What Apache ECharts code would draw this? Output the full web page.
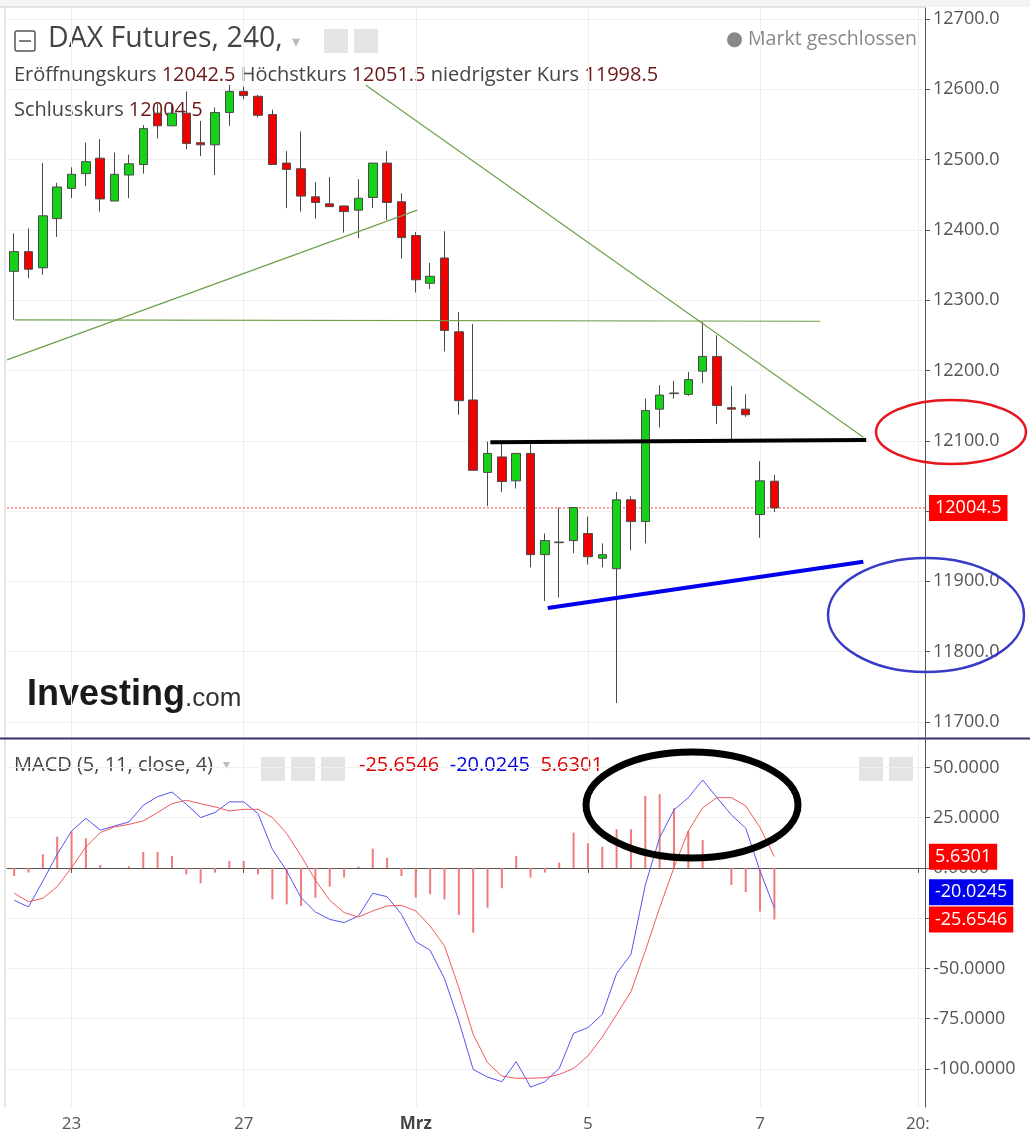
<!DOCTYPE html>
<html><head><meta charset="utf-8">
<script src="https://cdn.jsdelivr.net/npm/echarts@6/dist/echarts.min.js"></script>
<style>html,body{margin:0;padding:0;background:#fff}#c{width:1030px;height:1135px}</style>
</head><body><div id="c"></div>
<script>
const xLabels = {4:'23',16:'27',28:'Mrz',40:'5',52:'7',63:'20:'};
const opens  = [12341,12369,12346,12416,12459,12480,12502,12441,12478,12493,12566,12548,12566,12524,12521,12567,12597,12590,12564,12495,12487,12447,12437,12434,12428,12446,12495,12440,12392,12324,12360,12255,12158,12055,12077,12043,12082,11938,11955,11958,11968,11933,11918,12016,11985,12145,12167,12166,12199,12220,12147,12145,11995,12042.5];
const closes = [12369,12344,12420,12461,12479,12497,12444,12479,12494,12544,12548,12566,12523,12521,12567,12597,12591,12563,12493,12486,12448,12439,12433,12426,12445,12495,12439,12389,12329,12334,12257,12157,12058,12082,12042,12082,11938,11958,11956,12005,11935,11938,12016,11985,12143,12165,12168,12187,12220,12150,12145,12137,12043,12004.5];
const lows   = [12272,12331,12336,12390,12445,12462,12426,12441,12445,12480,12530,12548,12515,12505,12478,12548,12586,12560,12493,12431,12426,12416,12433,12396,12388,12431,12414,12359,12311,12316,12227,12137,12058,12007,12027,12032,11920,11872,11877,11940,11924,11920,11727,11944,11954,12119,12160,12164,12182,12124,12101,12134,11962,11998.5];
const highs  = [12395,12402,12495,12467,12489,12524,12529,12510,12507,12549,12579,12580,12597,12555,12574,12606,12604,12592,12571,12512,12540,12468,12475,12434,12472,12495,12512,12452,12397,12353,12398,12283,12266,12099,12099,12082,12099,11968,12005,12005,11992,11954,12027,12021,12160,12179,12185,12198,12269,12250,12178,12166,12071,12051.5];
const macdLine = [-16.1,-19.4,-6.5,6.8,18.4,24.7,18.8,20.9,22.9,31.2,35.5,37.8,31.7,25.1,27.6,32.9,32.9,27.1,9.3,-1.5,-14.8,-21.9,-25.6,-27.2,-23.9,-12.6,-14.3,-23.1,-36.7,-41.0,-55.1,-76.2,-100.3,-104.1,-106.4,-96.4,-109.1,-106.4,-99.8,-82.3,-79.5,-72.9,-52.5,-43,-8.5,15.1,28.9,35,43.8,35,26.4,19.8,-1.5,-20.0245];
const signalLine = [-12.6,-16.8,-15.1,-9.3,0.2,10.5,17.6,20.4,21.7,23.4,27.6,32,33.7,32,30.4,28.4,29.2,29.2,25.1,17.1,6,-6.1,-16.1,-22.2,-24.4,-21.4,-18.9,-18.6,-21.4,-28.9,-38.8,-59.6,-82.8,-96.9,-103.6,-104.7,-104.7,-104.4,-102.8,-99.8,-93.6,-84.2,-72.9,-61.6,-41.3,-19.8,0.2,18.4,30,35,35,30.9,20.1,5.6301];
const histogram = [-4,-2.3,6.8,15.6,18.1,14.8,1.5,0,0.8,8,8,6,-3.2,-7.6,-2.3,3.5,3.5,-3.2,-15.6,-18.1,-18.9,-14.8,-9.3,-4.8,0.7,9.6,5.1,-4,-14.8,-13.1,-15.6,-23.4,-32.2,-19.8,-10.1,6.0,-4.8,-2.3,2.7,17.6,12.3,10.5,19.3,19.3,35.9,36.7,29.7,18.4,13.9,-0.3,-8.5,-12,-21.7,-25.6546];
const priceTicks = [11700,11800,11900,12000,12100,12200,12300,12400,12500,12600,12700];
const macdTicks = [-100,-75,-50,-25,0,25,50];
const lastClose = 12004.5;
const lastHist = -25.6546, lastMacd = -20.0245, lastSignal = 5.6301;
const greenDesc = [[24.5,12606],[59.2,12105]];
const greenAsc = [[-0.5,12215],[28.1,12428]];
const greenHoriz = [[0.05,12272],[56.2,12270]];
const blackLevel = [[33.2,12098],[59.4,12101]];
const blueSupport = [[37.2,11862],[59.2,11928]];

const N = 64;
const labelIdx = Object.keys(xLabels).map(Number);
const cats = Array.from({length:N},(_,i)=>xLabels[i]||'');
const showIdx = (i)=> xLabels[i] !== undefined;
const candleData = opens.map((o,i)=>[o,closes[i],lows[i],highs[i]]);
const FONT = 'Open Sans, DejaVu Sans, sans-serif';

const chart = echarts.init(document.getElementById('c'));
function annot(data,color,width,extra){
  return Object.assign({type:'line',xAxisIndex:2,yAxisIndex:0,data:data,symbol:'none',silent:true,
    lineStyle:{color:color,width:width},z:5},extra||{});
}
function tag(v,bg,dy,digits){
  return {yAxis:v,lineStyle:{color:'rgba(0,0,0,0)',width:0},
    label:{show:true,position:'end',distance:4,offset:[0,dy||0],color:'#fff',backgroundColor:bg,padding:[4,6],
      fontSize:18,fontFamily:FONT,formatter:()=>v.toFixed(digits==null?4:digits)}};
}
function vgrid(gi){
  return {type:'value',gridIndex:gi,min:-0.5,max:N-0.5,axisLine:{show:false},axisLabel:{show:false},
    axisTick:{show:true,length:0,customValues:labelIdx},
    splitLine:{show:true,lineStyle:{color:'#efefef'}}};
}
chart.setOption({
  animation:false,
  backgroundColor:'#fff',
  grid:[{left:7,right:105,top:8,height:729},{left:7,right:105,top:740,bottom:28}],
  xAxis:[
    {type:'category',gridIndex:0,data:cats,show:false},
    {type:'category',gridIndex:1,data:cats,axisLine:{lineStyle:{color:'#555'}},
     axisTick:{show:true,alignWithLabel:true,interval:(i)=>showIdx(i),length:5,lineStyle:{color:'#555'}},
     axisLabel:{interval:(i)=>showIdx(i),color:'#555',fontSize:17,fontFamily:FONT,margin:9,
       formatter:(v)=>v==='Mrz'?'{b|Mrz}':v,rich:{b:{fontWeight:'bold',fontSize:17,color:'#444',fontFamily:FONT}}},
     splitLine:{show:false}},
    vgrid(0),
    vgrid(1)
  ],
  yAxis:[
    {type:'value',gridIndex:0,position:'right',min:11678.6,max:12715.6,scale:true,
     axisLine:{show:true,onZero:false,lineStyle:{color:'#555'}},
     axisTick:{show:true,length:5,customValues:priceTicks,lineStyle:{color:'#555'}},
     axisLabel:{customValues:priceTicks,color:'#555',fontSize:18,fontFamily:FONT,margin:8,formatter:(v)=>v.toFixed(1)},
     splitLine:{show:true,lineStyle:{color:'#efefef'}}},
    {type:'value',gridIndex:1,position:'right',min:-119,max:63.7,
     axisLine:{show:true,onZero:false,lineStyle:{color:'#555'}},
     axisTick:{show:true,length:5,customValues:macdTicks,lineStyle:{color:'#555'}},
     axisLabel:{customValues:macdTicks,color:'#555',fontSize:18,fontFamily:FONT,margin:8,formatter:(v)=>v.toFixed(4)},
     splitLine:{show:true,lineStyle:{color:'#efefef'}}}
  ],
  series:[
    annot([[-0.5,lastClose],[N-0.5,lastClose]],'#ff3b3b',1,{lineStyle:{color:'#ff3b3b',width:1,type:[2,2]},z:1,
      markLine:{symbol:'none',silent:true,data:[tag(lastClose,'#f00',0,1)]}}),
    {type:'candlestick',xAxisIndex:0,yAxisIndex:0,data:candleData,barWidth:9,z:3,
     itemStyle:{color:'#16d216',color0:'#f20000',borderColor:'#4a4a4a',borderColor0:'#4a4a4a',borderWidth:1}},
    annot(greenDesc,'#6ea04a',1.2),
    annot(greenAsc,'#6ea04a',1.2),
    annot(greenHoriz,'#6ea04a',1.2),
    annot(blackLevel,'#000',4),
    annot(blueSupport,'#0000ee',4),
    {type:'bar',xAxisIndex:1,yAxisIndex:1,data:histogram,barWidth:2,itemStyle:{color:'#f07a7a'},
     markLine:{symbol:'none',silent:true,data:[tag(lastHist,'#f00',0),tag(lastSignal,'#f00',0)]}},
    {type:'line',xAxisIndex:1,yAxisIndex:1,data:macdLine,symbol:'none',lineStyle:{color:'#5656f0',width:1},
     markLine:{symbol:'none',silent:true,data:[tag(lastMacd,'#0000ee',-16)]}},
    {type:'line',xAxisIndex:1,yAxisIndex:1,data:signalLine,symbol:'none',lineStyle:{color:'#f05a5a',width:1}}
  ],
  graphic:[
    {type:'rect',left:0,top:0,shape:{width:1030,height:7},style:{fill:'#f4f4f4'},z:-1},
    {type:'line',shape:{x1:0,y1:7,x2:925,y2:7},style:{stroke:'#ccc',lineWidth:1}},
    {type:'line',shape:{x1:5,y1:7,x2:5,y2:1107},style:{stroke:'#ccc',lineWidth:1}},
    {type:'line',shape:{x1:0,y1:738.5,x2:1030,y2:738.5},style:{stroke:'#333366',lineWidth:2},z:20},
    {type:'rect',shape:{x:15,y:31,width:20,height:20,r:2},style:{fill:'none',stroke:'#555',lineWidth:1.5}},
    {type:'line',shape:{x1:19,y1:41,x2:31,y2:41},style:{stroke:'#555',lineWidth:1.5}},
    {type:'text',left:48,top:24,style:{text:'DAX Futures, 240,',fontSize:28.5,fill:'#444',fontFamily:FONT}},
    {type:'text',left:292,top:35,style:{text:'▾',fontSize:16,fill:'#bbb'}},
    {type:'rect',shape:{x:324,y:29,width:24,height:24},style:{fill:'#e4e4e4'}},
    {type:'rect',shape:{x:354,y:29,width:24,height:24},style:{fill:'#e4e4e4'}},
    {type:'text',left:726,top:29,style:{text:'● Markt geschlossen',fontSize:19.5,fill:'#888',fontFamily:FONT}},
    {type:'text',left:14,top:65,style:{fontSize:20,fontFamily:FONT,fill:'#444',
      text:'{a|Eröffnungskurs} {v|12042.5} {a|Höchstkurs} {v|12051.5} {a|niedrigster Kurs} {v|11998.5}',
      rich:{a:{fontSize:20,fill:'#444',fontFamily:FONT},v:{fontSize:20,fill:'#6b1818',fontFamily:FONT}}}},
    {type:'text',left:14,top:100,style:{fontSize:20,fontFamily:FONT,
      text:'{a|Schlusskurs} {v|12004.5}',
      rich:{a:{fontSize:20,fill:'#444',fontFamily:FONT},v:{fontSize:20,fill:'#6b1818',fontFamily:FONT}}}},
    {type:'text',left:27,top:677,style:{fontFamily:'Liberation Sans, Arial, sans-serif',
      text:'{a|Investing}{b|.com}',
      rich:{a:{fontSize:36,fontWeight:'bold',fill:'#1a1a1a',fontFamily:'Liberation Sans, Arial, sans-serif'},
            b:{fontSize:26,fill:'#333',fontFamily:'Liberation Sans, Arial, sans-serif',padding:[8,0,0,0]}}}},
    {type:'text',left:14,top:755,style:{fontSize:20,fontFamily:FONT,
      text:'{a|MACD (5, 11, close, 4)}  {g|▾}',
      rich:{a:{fontSize:20,fill:'#444',fontFamily:FONT},g:{fontSize:14,fill:'#bbb'}}}},
    {type:'rect',shape:{x:261,y:757,width:24,height:24},style:{fill:'#e4e4e4'}},
    {type:'rect',shape:{x:291,y:757,width:24,height:24},style:{fill:'#e4e4e4'}},
    {type:'rect',shape:{x:321,y:757,width:24,height:24},style:{fill:'#e4e4e4'}},
    {type:'text',left:359,top:755,style:{fontSize:20,fontFamily:FONT,
      text:'{r|-25.6546}  {b|-20.0245}  {r|5.6301}',
      rich:{r:{fontSize:20,fill:'#e00000',fontFamily:FONT},b:{fontSize:20,fill:'#0000dd',fontFamily:FONT}}}},
    {type:'rect',shape:{x:859,y:757,width:24,height:24},style:{fill:'#e4e4e4'}},
    {type:'rect',shape:{x:889,y:757,width:24,height:24},style:{fill:'#e4e4e4'}},
    {type:'ellipse',shape:{cx:951,cy:432,rx:75,ry:32},style:{fill:'none',stroke:'#e8141c',lineWidth:2.5},z:30},
    {type:'ellipse',shape:{cx:926,cy:615,rx:98,ry:57},style:{fill:'none',stroke:'#3a3ac8',lineWidth:2.5},z:30},
    {type:'ellipse',shape:{cx:692,cy:805,rx:106,ry:53},style:{fill:'none',stroke:'#000',lineWidth:7},z:30}
  ]
});
</script></body></html>
